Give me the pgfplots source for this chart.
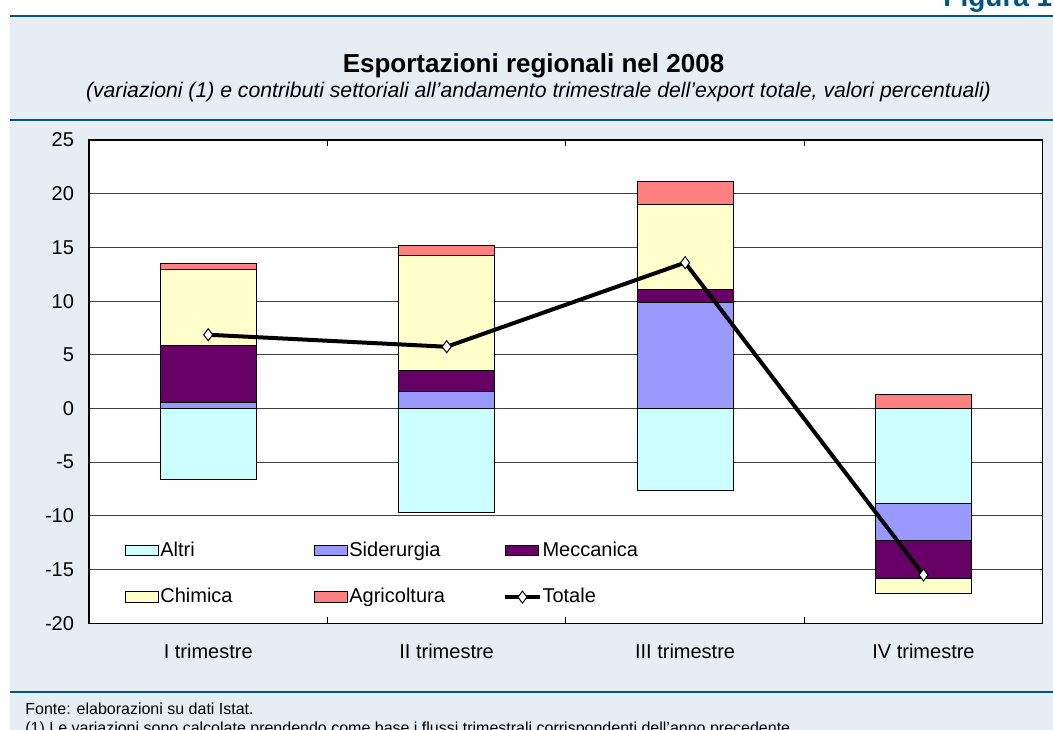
\documentclass[border=0pt]{standalone}
\usepackage{pgfplots}
\pgfplotsset{compat=1.18}
\usepackage{fontspec}
\setmainfont{Liberation Sans}
\definecolor{dblue}{RGB}{0,85,128}
\definecolor{panel}{RGB}{230,238,244}
\definecolor{cAltri}{RGB}{204,255,255}
\definecolor{cSid}{RGB}{153,153,255}
\definecolor{cMecc}{RGB}{102,0,102}
\definecolor{cChim}{RGB}{255,255,204}
\definecolor{cAgr}{RGB}{255,128,128}
\pgfplotsset{barleg/.style={legend image code/.code={\draw[##1] (0pt,-2.6pt) rectangle (16.5pt,2.6pt);}}}
\begin{document}
\begin{tikzpicture}
\useasboundingbox (0pt,0pt) rectangle (526.5pt,-364.5pt);
\fill[panel] (5pt,-8pt) rectangle (535pt,-370pt);
\draw[dblue, line width=1.2pt] (5pt,-8pt) -- (535pt,-8pt);
\draw[dblue, line width=1.1pt] (5pt,-60pt) -- (535pt,-60pt);
\draw[dblue, line width=1.1pt] (5pt,-346pt) -- (535pt,-346pt);
\node[anchor=base west, text=dblue, font=\fontsize{14}{16}\selectfont\bfseries, inner sep=0pt] at (471.5pt,-3pt) {Figura 1.};
\node[anchor=base, font=\fontsize{13}{15}\selectfont\bfseries, inner sep=0pt] at (266.75pt,-36pt) {Esportazioni regionali nel 2008};
\node[anchor=base, font=\fontsize{10.6}{12}\selectfont\itshape, inner sep=0pt] at (269.25pt,-48.5pt) {(variazioni (1) e contributi settoriali all’andamento trimestrale dell’export totale, valori percentuali)};
\node[anchor=base west, font=\fontsize{8}{10}\selectfont, inner sep=0pt] at (12.5pt,-357pt) {Fonte: elaborazioni su dati Istat.};
\node[anchor=base west, font=\fontsize{8}{10}\selectfont, inner sep=0pt] at (12.5pt,-366.5pt) {(1) Le variazioni sono calcolate prendendo come base i flussi trimestrali corrispondenti dell’anno precedente.};
\begin{axis}[
  at={(44.5pt,-311.65pt)}, anchor=south west,
  scale only axis, width=476.85pt, height=241.65pt,
  xmin=-0.5, xmax=3.5, ymin=-20, ymax=25,
  axis background/.style={fill=white},
  axis line style={black, line width=0.6pt},
  xtick={0,1,2,3},
  xticklabels={I trimestre, II trimestre, III trimestre, IV trimestre},
  minor xtick={0.5,1.5,2.5},
  tick align=inside,
  major tick length=0pt, minor tick length=3pt,
  minor tick style={black, line width=0.5pt},
  ytick={-20,-15,...,25},
  yticklabels={-20,-15,-10,-5,0,5,10,15,20,25},
  ymajorgrids, grid style={black!75, line width=0.5pt},
  tick label style={font=\fontsize{10}{12}\selectfont},
  xticklabel style={yshift=-7pt},
  yticklabel style={xshift=-4pt},
  legend columns=3,
  legend style={draw=none, fill=none, inner sep=0pt, at={(0.0377,0.1714)}, anchor=north west,
     nodes={inner sep=0.5pt}, column sep=0pt, row sep=13.5pt, font=\fontsize{10}{12}\selectfont},
  legend cell align=left,
]
% legend entries
\addlegendimage{barleg, fill=cAltri, draw=black, line width=0.5pt}
\addlegendentry{\makebox[76.5pt][l]{Altri}}
\addlegendimage{barleg, fill=cSid, draw=black, line width=0.5pt}
\addlegendentry{\makebox[76.5pt][l]{Siderurgia}}
\addlegendimage{barleg, fill=cMecc, draw=black, line width=0.5pt}
\addlegendentry{\makebox[76.5pt][l]{Meccanica}}
\addlegendimage{barleg, fill=cChim, draw=black, line width=0.5pt}
\addlegendentry{\makebox[76.5pt][l]{Chimica}}
\addlegendimage{barleg, fill=cAgr, draw=black, line width=0.5pt}
\addlegendentry{\makebox[76.5pt][l]{Agricoltura}}
\addlegendimage{black, line width=2pt, mark=diamond*, mark size=3pt, mark options={fill=white, line width=0.5pt}}
\addlegendentry{\makebox[76.5pt][l]{Totale}}
% bars: upper/lower bounds of each stacked segment (drawn outer first)
\addplot[forget plot, ybar, bar shift=0pt, bar width=0.403, fill=cAgr, draw=black, line width=0.5pt]
  coordinates {(0,13.52) (1,15.22) (2,21.18) (3,1.35)};
\addplot[forget plot, ybar, bar shift=0pt, bar width=0.403, fill=cChim, draw=black, line width=0.5pt]
  coordinates {(0,12.90) (1,14.23) (2,18.98) (3,-17.27)};
\addplot[forget plot, ybar, bar shift=0pt, bar width=0.403, fill=cMecc, draw=black, line width=0.5pt]
  coordinates {(0,5.88) (1,3.56) (2,11.06) (3,-15.85)};
\addplot[forget plot, ybar, bar shift=0pt, bar width=0.403, fill=cSid, draw=black, line width=0.5pt]
  coordinates {(0,0.58) (1,1.56) (2,9.85) (3,-12.27)};
\addplot[forget plot, ybar, bar shift=0pt, bar width=0.403, fill=cAltri, draw=black, line width=0.5pt]
  coordinates {(0,-6.63) (1,-9.70) (2,-7.62) (3,-8.86)};
% Totale
\addplot[forget plot, sharp plot, black, line width=2pt, mark=diamond*, mark size=3pt, mark options={fill=white, line width=0.5pt}]
  coordinates {(0,6.87) (1,5.75) (2,13.58) (3,-15.5)};
\end{axis}
\end{tikzpicture}
\end{document}
